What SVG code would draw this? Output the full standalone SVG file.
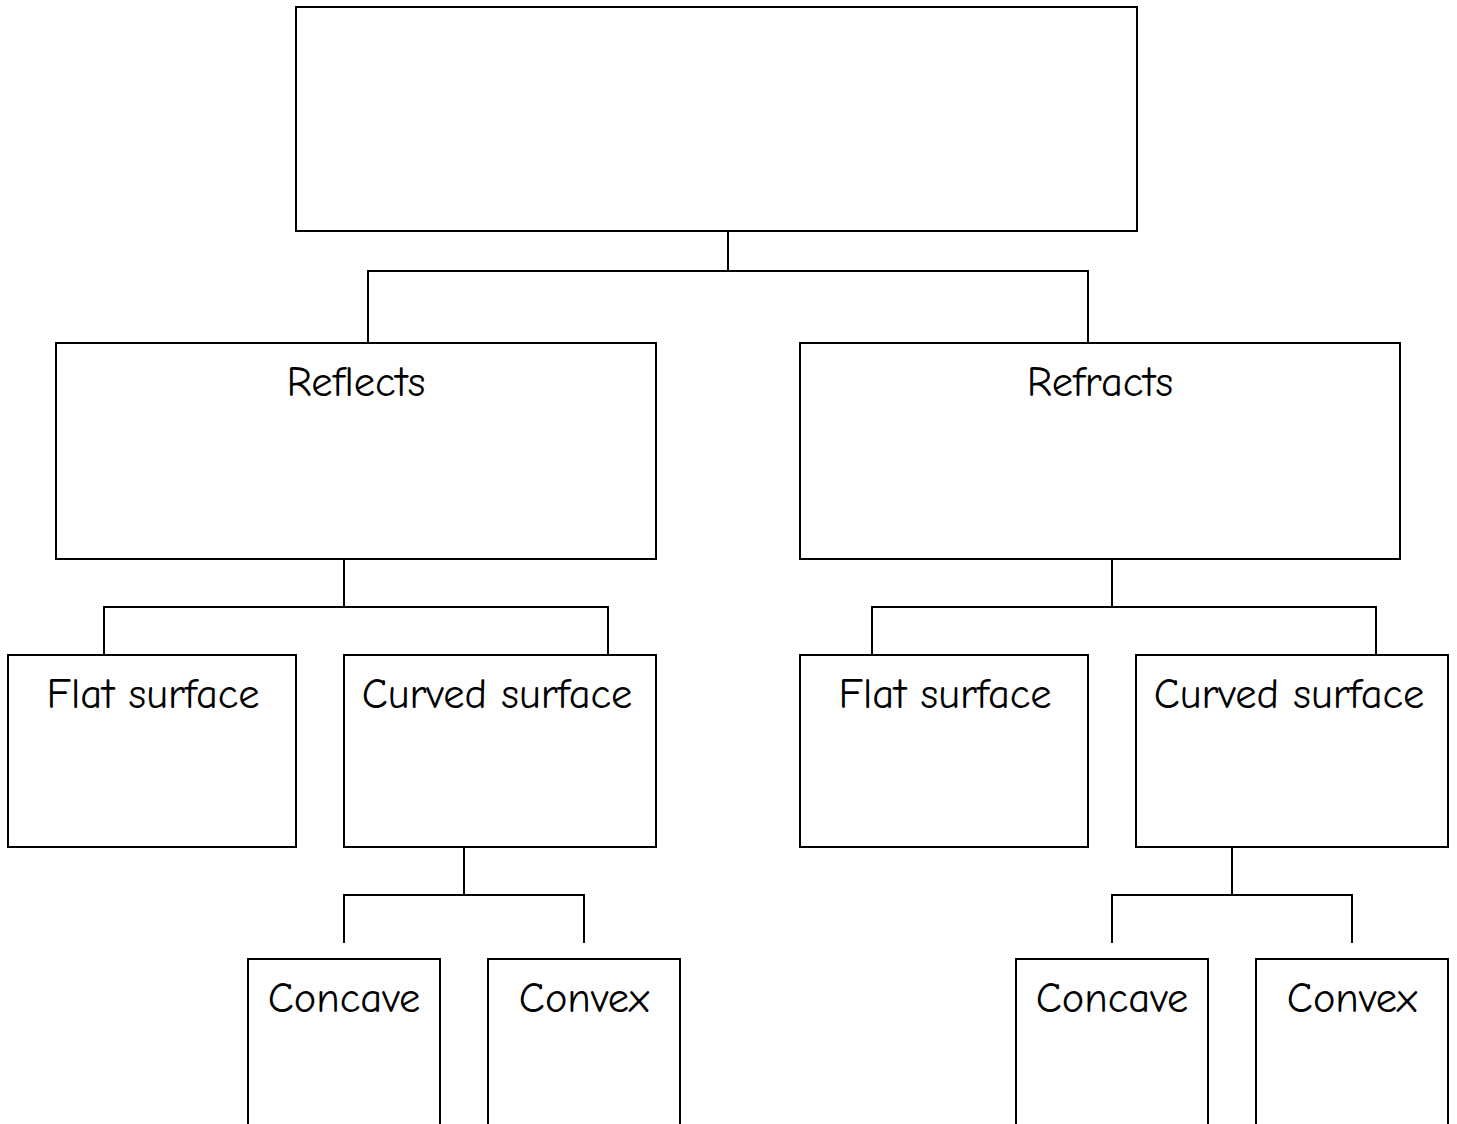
<svg xmlns="http://www.w3.org/2000/svg" width="1457" height="1124" viewBox="0 0 1457 1124">
<style>
.box{fill:#fff;stroke:#000;stroke-width:2}
.ln{fill:none;stroke:#000;stroke-width:2}
text{font-family:"Comic Sans MS","Comic Neue","DejaVu Sans",sans-serif;font-size:42.5px;fill:#000;text-anchor:middle}
</style>
<rect width="1457" height="1124" fill="#fff"/>
<g id="connectors">
<path class="ln" d="M728,231 V271 M368,343 V271 H1088 V343"/>
<path class="ln" d="M344,559 V607 M104,655 V607 H608 V655"/>
<path class="ln" d="M1112,559 V607 M872,655 V607 H1376 V655"/>
<path class="ln" d="M464,847 V895 M344,943 V895 H584 V943"/>
<path class="ln" d="M1232,847 V895 M1112,943 V895 H1352 V943"/>
</g>
<g id="root"><rect class="box" x="296" y="7" width="841" height="224"/></g>
<g id="reflects"><rect class="box" x="56" y="343" width="600" height="216"/><text x="356" y="396">Reflects</text></g>
<g id="refracts"><rect class="box" x="800" y="343" width="600" height="216"/><text x="1100" y="396">Refracts</text></g>
<g id="reflect-flat"><rect class="box" x="8" y="655" width="288" height="192"/><text x="153" y="708">Flat surface</text></g>
<g id="reflect-curved"><rect class="box" x="344" y="655" width="312" height="192"/><text x="497" y="708">Curved surface</text></g>
<g id="refract-flat"><rect class="box" x="800" y="655" width="288" height="192"/><text x="945" y="708">Flat surface</text></g>
<g id="refract-curved"><rect class="box" x="1136" y="655" width="312" height="192"/><text x="1289" y="708">Curved surface</text></g>
<g id="reflect-concave"><rect class="box" x="248" y="959" width="192" height="200"/><text x="344" y="1012">Concave</text></g>
<g id="reflect-convex"><rect class="box" x="488" y="959" width="192" height="200"/><text x="584" y="1012">Convex</text></g>
<g id="refract-concave"><rect class="box" x="1016" y="959" width="192" height="200"/><text x="1112" y="1012">Concave</text></g>
<g id="refract-convex"><rect class="box" x="1256" y="959" width="192" height="200"/><text x="1352" y="1012">Convex</text></g>
</svg>
